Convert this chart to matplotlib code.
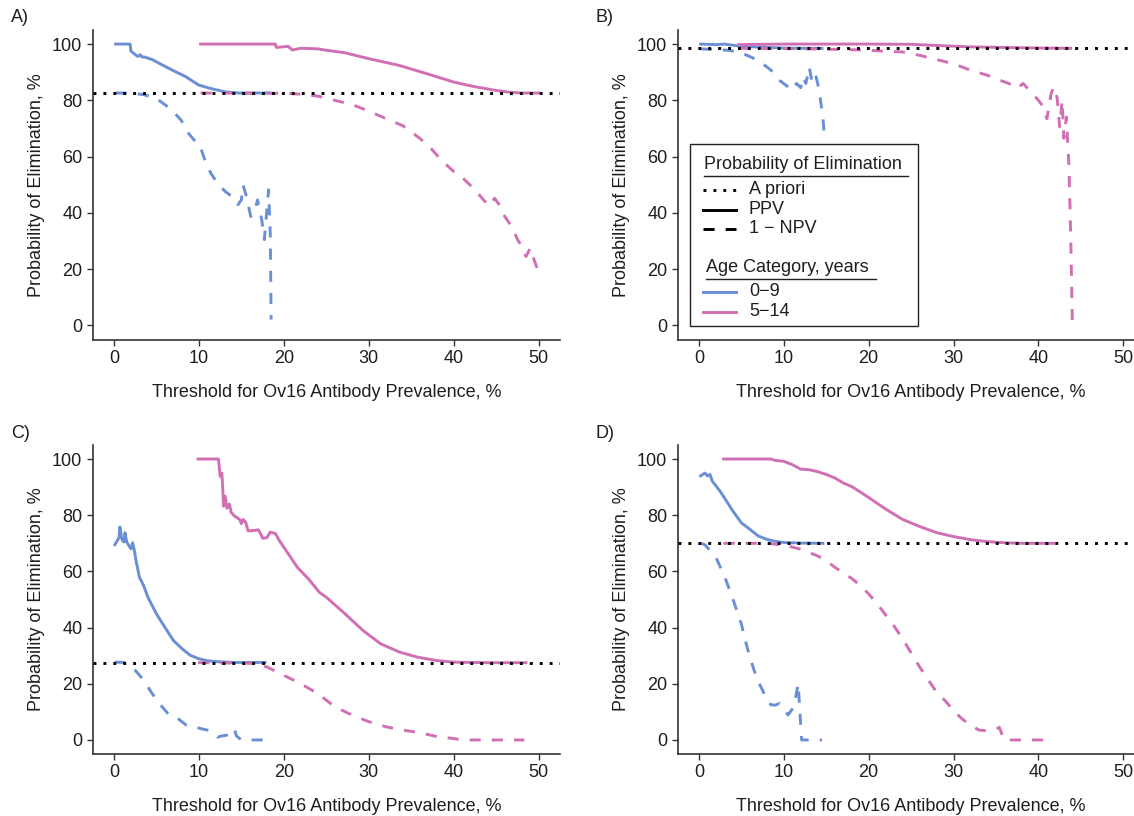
import matplotlib
matplotlib.use("Agg")
import matplotlib.pyplot as plt
from matplotlib.lines import Line2D
from matplotlib.patches import Rectangle

plt.rcParams['font.family'] = ['Liberation Sans', 'DejaVu Sans']

BLUE = '#6b8fd4'
PINK = '#d16fb4'

# ---------------- Data ----------------
# a priori probability of elimination per panel
apriori = {'A': 82.5, 'B': 98.5, 'C': 27.5, 'D': 70.0}

# Panel A
a_ppv09_x = [0.2, 1.9, 2.0, 2.36, 2.8, 3.1, 3.3, 3.6, 4.5, 5.8, 7.1, 8.4, 10.0, 11.4, 13.1, 14.8, 16.5, 18.4]
a_ppv09_y = [100, 100, 97.5, 96.6, 95.6, 96.2, 95.4, 95.4, 94.5, 92.4, 90.4, 88.5, 85.4, 84.2, 83.0, 82.6, 82.6, 82.6]
a_npv09_x = [0.2, 2.0, 3.5, 4.9, 6.6, 7.9, 8.8, 9.6, 10.1, 10.7, 11.4, 12.2, 13.1, 13.9, 14.6, 15.0, 15.2, 15.6, 16.1, 16.5, 16.9, 17.4, 17.7, 18.0, 18.2, 18.4, 18.5]
a_npv09_y = [82.6, 82.6, 82.0, 80.9, 77.1, 73.0, 68.2, 65.3, 64.1, 58.8, 54.1, 50.5, 47.6, 45.8, 42.9, 44.6, 49.9, 45.8, 38.7, 39.9, 44.6, 37.5, 30.5, 41.1, 48.2, 32.8, 2.1]
a_ppv514_x = [10.2, 19.0, 19.1, 20.5, 21.0, 22.0, 24.0, 25.0, 27.2, 30.0, 33.6, 37.0, 40.0, 42.2, 44.8, 46.5, 48.0, 50.0]
a_ppv514_y = [100, 100, 98.8, 99.2, 97.9, 98.5, 98.3, 97.8, 96.9, 94.8, 92.4, 89.3, 86.5, 85.0, 83.6, 82.9, 82.6, 82.6]
a_npv514_x = [10.2, 20.0, 22.0, 24.0, 26.0, 28.0, 30.0, 32.0, 34.0, 36.0, 37.5, 38.5, 40.0, 40.5, 41.5, 42.5, 43.5, 44.2, 44.8, 45.5, 46.0, 46.5, 47.0, 47.5, 48.0, 48.5, 49.0, 49.3, 50.0]
a_npv514_y = [82.6, 82.5, 82.2, 81.5, 80.0, 78.5, 76.2, 73.5, 71.0, 66.5, 62.3, 58.8, 54.7, 54.0, 51.1, 48.2, 44.6, 42.5, 45.2, 42.3, 38.7, 36.5, 34.0, 30.5, 28.1, 24.5, 27.5, 24.6, 18.7]

# Panel B
b_ppv09_x = [0.2, 2.0, 3.0, 5.0, 8.0, 10.0, 12.0, 14.5]
b_ppv09_y = [100, 99.8, 100, 99.2, 98.8, 98.6, 98.5, 98.5]
b_npv09_x = [0.2, 2.0, 3.5, 5.0, 7.0, 8.5, 9.5, 10.5, 11.0, 11.5, 12.0, 12.3, 12.6, 13.0, 13.3, 13.7, 14.0, 14.3, 14.6, 14.8]
b_npv09_y = [98.3, 98.0, 97.8, 96.9, 94.2, 90.7, 87.1, 84.8, 83.6, 86.0, 84.5, 88.3, 86.0, 91.8, 87.0, 89.5, 86.0, 80.6, 74.1, 66.5]
b_ppv514_x = [4.7, 10.0, 20.0, 25.0, 28.0, 32.0, 36.0, 40.0, 43.8]
b_ppv514_y = [99.8, 100, 100, 99.9, 99.5, 99.0, 98.8, 98.6, 98.5]
b_npv514_x = [4.7, 10.0, 15.0, 18.0, 20.0, 22.0, 24.0, 26.0, 28.0, 30.0, 32.0, 34.0, 35.5, 36.5, 37.5, 38.2, 38.8, 39.5, 40.0, 40.5, 41.0, 41.5, 41.8, 42.2, 42.5, 42.8, 43.0, 43.3, 43.6, 43.8, 44.0]
b_npv514_y = [98.5, 98.4, 98.2, 98.0, 97.8, 97.4, 97.2, 96.0, 94.5, 93.0, 90.7, 88.9, 87.1, 86.0, 84.2, 86.0, 84.0, 81.8, 80.0, 78.0, 73.5, 82.4, 84.8, 81.0, 70.6, 80.0, 66.5, 74.1, 56.4, 32.8, 1.0]

# Panel C
c_ppv09_x = [0.1, 0.4, 0.6, 0.7, 0.9, 1.0, 1.2, 1.3, 1.5, 1.7, 2.0, 2.2, 2.4, 2.6, 3.0, 3.5, 4.0, 5.0, 6.0, 7.0, 8.0, 9.0, 10.0, 11.0, 12.0, 14.0, 17.8]
c_ppv09_y = [69.5, 71.0, 72.0, 75.8, 72.0, 71.0, 70.5, 73.8, 70.5, 69.5, 68.0, 70.2, 67.5, 63.8, 57.9, 54.9, 50.8, 44.9, 40.1, 35.4, 32.5, 30.1, 28.9, 28.2, 27.9, 27.6, 27.6]
c_npv09_x = [0.1, 1.2, 1.5, 2.5, 3.5, 4.5, 5.5, 6.5, 7.5, 8.5, 10.0, 11.0, 11.8, 12.2, 12.8, 13.5, 14.0, 14.2, 14.4, 15.0, 17.8]
c_npv09_y = [27.7, 27.6, 27.0, 24.8, 21.3, 16.5, 12.4, 8.9, 7.7, 5.3, 4.2, 3.5, 2.3, 1.0, 1.5, 1.8, 2.3, 3.8, 1.5, 0.0, 0.0]
c_ppv514_x = [9.9, 12.3, 12.5, 12.7, 12.8, 12.9, 13.1, 13.3, 13.6, 13.8, 14.2, 14.8, 15.0, 15.2, 15.5, 15.8, 16.5, 17.0, 17.3, 17.5, 18.0, 18.4, 19.0, 19.5, 20.8, 21.6, 22.9, 24.2, 25.0, 27.2, 29.3, 31.4, 33.6, 35.7, 37.9, 40.0, 44.0, 48.5]
c_ppv514_y = [100, 100, 93.9, 95.0, 90.0, 83.2, 86.8, 82.5, 84.0, 81.0, 79.7, 78.5, 77.0, 78.5, 77.5, 74.4, 74.6, 74.8, 73.2, 71.8, 72.0, 74.0, 73.5, 70.8, 65.0, 61.4, 57.3, 52.5, 50.8, 44.9, 39.0, 34.2, 31.3, 29.5, 28.3, 27.7, 27.5, 27.5]
c_npv514_x = [9.9, 16.0, 18.0, 20.0, 22.0, 24.0, 26.0, 28.0, 30.0, 32.0, 34.0, 36.0, 38.0, 40.0, 41.0, 48.3]
c_npv514_y = [27.5, 27.3, 26.0, 23.0, 20.0, 16.5, 11.8, 8.9, 6.5, 4.7, 3.5, 2.6, 1.2, 0.5, 0.0, 0.0]

# Panel D
d_ppv09_x = [0.2, 0.7, 1.0, 1.3, 1.6, 2.0, 2.5, 3.0, 4.0, 5.0, 6.0, 7.0, 8.0, 9.0, 10.0, 12.0, 14.6]
d_ppv09_y = [94.0, 95.0, 94.0, 94.5, 92.0, 90.5, 88.5, 86.2, 81.5, 77.3, 75.0, 72.6, 71.4, 70.7, 70.3, 70.1, 70.0]
d_npv09_x = [0.2, 0.7, 1.0, 2.0, 3.0, 4.0, 5.0, 5.5, 6.0, 6.5, 7.0, 7.5, 8.0, 8.5, 9.0, 9.5, 10.0, 10.5, 11.0, 11.3, 11.7, 11.9, 12.1, 14.5]
d_npv09_y = [70.0, 69.5, 68.5, 65.0, 58.4, 50.2, 41.3, 35.0, 29.5, 24.8, 20.7, 17.7, 14.2, 12.5, 12.4, 13.0, 11.2, 8.9, 11.0, 13.6, 20.0, 10.0, 0.0, 0.0]
d_ppv514_x = [2.9, 8.5, 9.0, 10.0, 11.0, 12.0, 13.0, 14.0, 15.0, 16.0, 17.0, 18.0, 19.0, 20.0, 22.0, 24.0, 26.0, 28.0, 30.0, 32.0, 34.0, 36.0, 38.0, 41.8]
d_ppv514_y = [100, 100, 99.5, 99.2, 98.0, 96.4, 96.2, 95.5, 94.5, 93.3, 91.5, 90.2, 88.3, 86.3, 82.2, 78.5, 76.0, 73.8, 72.4, 71.3, 70.6, 70.2, 70.0, 70.0]
d_npv514_x = [2.9, 8.0, 10.0, 12.0, 14.0, 15.0, 16.0, 18.0, 19.0, 20.0, 21.0, 22.0, 23.0, 24.0, 25.0, 26.0, 27.0, 28.0, 29.0, 30.0, 31.0, 32.0, 33.0, 34.0, 35.0, 35.4, 35.7, 36.0, 41.8]
d_npv514_y = [70.0, 70.0, 69.4, 67.9, 65.5, 63.8, 61.5, 57.5, 55.0, 52.0, 48.5, 44.5, 40.5, 36.0, 31.0, 26.0, 21.5, 17.0, 14.0, 10.5, 7.5, 5.3, 3.5, 3.3, 3.8, 4.5, 2.0, 0.0, 0.0]

panels = {
    'A': [(a_ppv09_x, a_ppv09_y, BLUE, '-'), (a_npv09_x, a_npv09_y, BLUE, '--'),
          (a_ppv514_x, a_ppv514_y, PINK, '-'), (a_npv514_x, a_npv514_y, PINK, '--')],
    'B': [(b_ppv09_x, b_ppv09_y, BLUE, '-'), (b_npv09_x, b_npv09_y, BLUE, '--'),
          (b_ppv514_x, b_ppv514_y, PINK, '-'), (b_npv514_x, b_npv514_y, PINK, '--')],
    'C': [(c_ppv09_x, c_ppv09_y, BLUE, '-'), (c_npv09_x, c_npv09_y, BLUE, '--'),
          (c_ppv514_x, c_ppv514_y, PINK, '-'), (c_npv514_x, c_npv514_y, PINK, '--')],
    'D': [(d_ppv09_x, d_ppv09_y, BLUE, '-'), (d_npv09_x, d_npv09_y, BLUE, '--'),
          (d_ppv514_x, d_ppv514_y, PINK, '-'), (d_npv514_x, d_npv514_y, PINK, '--')],
}

x_ticks = [0, 10, 20, 30, 40, 50]
y_ticks = [0, 20, 40, 60, 80, 100]
xlabel = 'Threshold for Ov16 Antibody Prevalence, %'
ylabel = 'Probability of Elimination, %'

# ---------------- Figure ----------------
W, H = 1134, 816
fig = plt.figure(figsize=(W / 100, H / 100), dpi=100)

# axes boxes in pixels: left, right, top, bottom
boxes = {
    'A': (92.7, 560.0, 30.0, 339.5),
    'B': (677.7, 1144.5, 30.0, 339.5),
    'C': (92.7, 560.0, 445.0, 754.0),
    'D': (677.7, 1144.5, 445.0, 754.0),
}

LW = 2.1
DASH = (0, (3.8, 3.8))
DOT = (0, (1, 2.4))
TXT = '#1e1e1e'
TICKC = '#333333'
FS = 13

for key, (l, r, t, b) in boxes.items():
    ax = fig.add_axes([l / W, 1 - b / H, (r - l) / W, (b - t) / H])
    ax.set_xlim(-2.5, 52.5)
    ax.set_ylim(-5, 105)
    ax.axhline(apriori[key], color='black', lw=LW, linestyle=DOT, zorder=3)
    for xs, ys, col, ls in panels[key]:
        ax.plot(xs, ys, color=col, lw=LW, linestyle=DASH if ls == '--' else '-',
                solid_joinstyle='round', zorder=2)
    ax.set_xticks(x_ticks)
    ax.set_yticks(y_ticks)
    for s in ['top', 'right']:
        ax.spines[s].set_visible(False)
    for s in ['left', 'bottom']:
        ax.spines[s].set_linewidth(1.2)
        ax.spines[s].set_color('#333333')
    ax.tick_params(axis='both', length=4, width=1.0, color=TICKC, labelsize=FS,
                   labelcolor=TXT, pad=3.5)
    ax.set_xlabel(xlabel, fontsize=FS, color=TXT, labelpad=12)
    ax.set_ylabel(ylabel, fontsize=FS, color=TXT, labelpad=5)
    fig.text((l - 82) / W, 1 - (t - 12) / H, key + ')', fontsize=FS, color=TXT,
             ha='left', va='center')

    if key == 'B':
        tr = ax.transAxes
        def px(xp, yp):
            return ((xp - l) / (r - l), (b - yp) / (b - t))
        x0, y0 = px(690, 326)
        x1, y1 = px(918, 144)
        ax.add_patch(Rectangle((x0, y0), x1 - x0, y1 - y0, transform=tr,
                               facecolor='white', edgecolor='#222222', lw=1.0, zorder=5))
        # section 1
        tx, ty = px(704, 164.5)
        ax.text(tx, ty, 'Probability of Elimination', transform=tr, fontsize=FS,
                color=TXT, ha='left', va='center', zorder=6)
        ua, uy = px(704, 176.5)
        ub, _ = px(908, 176.5)
        ax.add_line(Line2D([ua, ub], [uy, uy], transform=tr, color='#222222', lw=1.0, zorder=6))
        entries1 = [('A priori', DOT, 'black', 190), ('PPV', '-', 'black', 209.5),
                    ('1 − NPV', DASH, 'black', 228.7)]
        for lab, ls, col, yp in entries1:
            ka, ky = px(703, yp)
            kb, _ = px(736, yp)
            ax.add_line(Line2D([ka, kb], [ky, ky], transform=tr, color=col, lw=LW,
                               linestyle=ls, zorder=6))
            lx, _ = px(749, yp)
            ax.text(lx, ky, lab, transform=tr, fontsize=FS, color=TXT, ha='left',
                    va='center', zorder=6)
        tx, ty = px(706, 267)
        ax.text(tx, ty, 'Age Category, years', transform=tr, fontsize=FS,
                color=TXT, ha='left', va='center', zorder=6)
        ua, uy = px(706, 279)
        ub, _ = px(876, 279)
        ax.add_line(Line2D([ua, ub], [uy, uy], transform=tr, color='#222222', lw=1.0, zorder=6))
        entries2 = [('0−9', BLUE, 292), ('5−14', PINK, 311.5)]
        for lab, col, yp in entries2:
            ka, ky = px(703, yp)
            kb, _ = px(736, yp)
            ax.add_line(Line2D([ka, kb], [ky, ky], transform=tr, color=col, lw=LW, zorder=6))
            lx, _ = px(749, yp)
            ax.text(lx, ky, lab, transform=tr, fontsize=FS, color=TXT, ha='left',
                    va='center', zorder=6)

fig.savefig('out.png', dpi=100)
